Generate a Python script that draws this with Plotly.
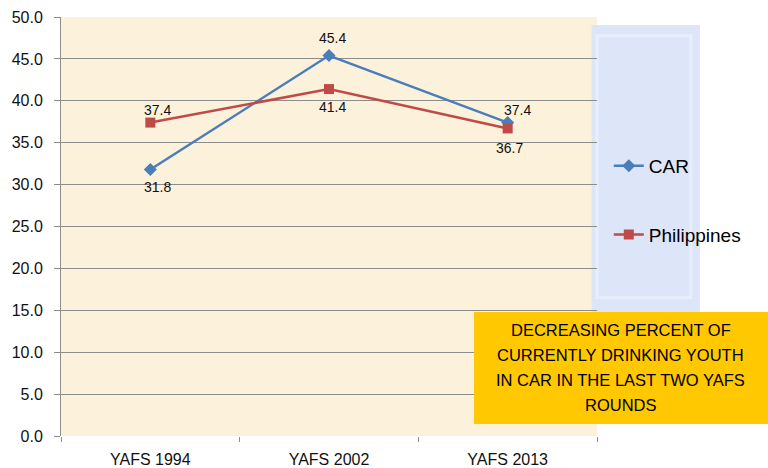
import plotly.graph_objects as go

categories = ["YAFS 1994", "YAFS 2002", "YAFS 2013"]
car_values = [31.8, 45.4, 37.4]
ph_values = [37.4, 41.4, 36.7]
y_ticks = [0, 5, 10, 15, 20, 25, 30, 35, 40, 45, 50]
note_lines = ["DECREASING PERCENT OF", "CURRENTLY DRINKING YOUTH",
              "IN CAR IN THE LAST TWO YAFS", "ROUNDS"]

# label offsets (px) for data labels
car_label_dx = [7, 3, 10]
car_label_dy = [-17, 18, 13]
ph_label_dx = [7, 3, 2]
ph_label_dy = [13, -18, -20]

FONT = "Liberation Sans, Arial, sans-serif"

fig = go.Figure()
fig.add_trace(go.Scatter(
    x=categories, y=car_values, name="CAR", mode="lines+markers",
    line=dict(color="#4A7EBB", width=2.5),
    marker=dict(symbol="diamond", size=10, color="#4A7EBB"),
    legendgroup="a", cliponaxis=False))
fig.add_trace(go.Scatter(
    x=categories, y=ph_values, name="Philippines", mode="lines+markers",
    line=dict(color="#BE4B48", width=2.5),
    marker=dict(symbol="square", size=10, color="#BE4B48"),
    legendgroup="b", cliponaxis=False))

box_x0, box_x1, box_y0, box_y1 = 0.7705, 1.319, 0.0286, 0.296

shapes = [
    # faint logo block behind legend
    dict(type="rect", xref="paper", yref="paper", x0=0.99, x1=1.192, y0=0.27, y1=0.981,
         fillcolor="#DCE6F8", line=dict(width=0), layer="below"),
    dict(type="rect", xref="paper", yref="paper", x0=1.0, x1=1.175, y0=0.33, y1=0.955,
         fillcolor="rgba(0,0,0,0)", line=dict(color="#E8EFFA", width=3), layer="below"),
    # yellow note box
    dict(type="rect", xref="paper", yref="paper", x0=box_x0, x1=box_x1, y0=box_y0, y1=box_y1,
         fillcolor="#FFC800", line=dict(width=0), layer="above"),
]

annotations = []
for vals, dxs, dys in [(car_values, car_label_dx, car_label_dy),
                       (ph_values, ph_label_dx, ph_label_dy)]:
    for cat, v, dx, dy in zip(categories, vals, dxs, dys):
        annotations.append(dict(
            x=cat, y=v, xref="x", yref="y", text=f"{v:.1f}", showarrow=False,
            xshift=dx, yshift=dy, xanchor="center", yanchor="middle",
            font=dict(size=14, family=FONT, color="#111111")))

line_h = 25 / 419
mid_y = (box_y0 + box_y1) / 2
for i, line in enumerate(note_lines):
    annotations.append(dict(
        xref="paper", yref="paper", x=(box_x0 + box_x1) / 2,
        y=mid_y + (1.5 - i) * line_h,
        xanchor="center", yanchor="middle", showarrow=False, text=line,
        font=dict(size=16.5, family=FONT, color="black")))

fig.update_layout(
    width=768, height=468,
    margin=dict(l=61, r=171, t=17, b=32),
    paper_bgcolor="white",
    plot_bgcolor="#FCF1DA",
    font=dict(family=FONT, color="#111111"),
    showlegend=True,
    legend=dict(x=1.022, y=0.69, xanchor="left", yanchor="top",
                font=dict(size=19, family=FONT, color="black"),
                bgcolor="rgba(0,0,0,0)", tracegroupgap=41, itemwidth=30),
    xaxis=dict(type="category", range=[-0.5, 2.5], showgrid=False,
               tickfont=dict(size=16, family=FONT, color="#111111"),
               showline=False, ticks="outside", tickson="boundaries",
               ticklen=5, tickcolor="#8C8C8C", ticklabelstandoff=12,
               automargin=False),
    yaxis=dict(range=[0, 50], tickvals=y_ticks, ticktext=[f"{v:.1f}" for v in y_ticks],
               showgrid=True, gridcolor="#8C8C8C", gridwidth=1,
               showline=True, linecolor="#8C8C8C", linewidth=1,
               ticks="outside", ticklen=6, tickcolor="#8C8C8C",
               tickfont=dict(size=16, family=FONT, color="#111111"),
               ticklabelstandoff=8, zeroline=False, automargin=False),
    shapes=shapes,
    annotations=annotations,
)

fig.write_html("out.html", config={"displayModeBar": False},
               post_script="document.body.style.margin='0';document.body.style.overflow='hidden';")
